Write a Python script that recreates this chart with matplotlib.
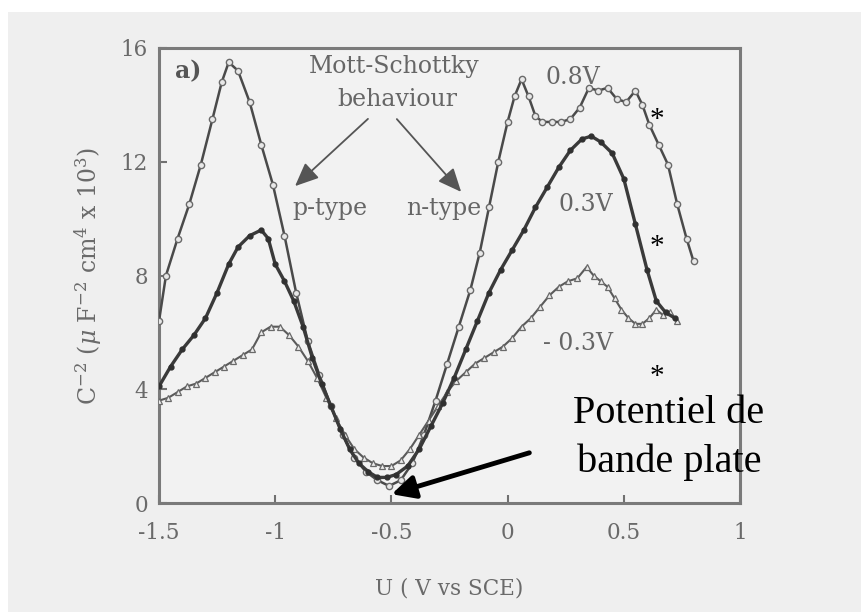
import matplotlib
matplotlib.use("Agg")
import matplotlib.pyplot as plt
from matplotlib.patches import Rectangle, FancyArrowPatch

plt.rcParams['axes.unicode_minus'] = False
plt.rcParams['mathtext.fontset'] = 'dejavuserif'

# ---- data ----
v08_x = [-1.50, -1.47, -1.42, -1.37, -1.32, -1.27, -1.23, -1.20, -1.16, -1.11, -1.06, -1.01,
         -0.96, -0.91, -0.86, -0.81, -0.76, -0.71, -0.66, -0.61, -0.56, -0.51, -0.46, -0.41,
         -0.36, -0.31, -0.26, -0.21, -0.16, -0.12, -0.08, -0.04, 0.00, 0.03, 0.06, 0.09,
         0.12, 0.15, 0.19, 0.23, 0.27, 0.31, 0.35, 0.39, 0.43, 0.47, 0.51, 0.55, 0.58,
         0.61, 0.65, 0.69, 0.73, 0.77, 0.80]
v08_y = [6.4, 8.0, 9.3, 10.5, 11.9, 13.5, 14.8, 15.5, 15.2, 14.1, 12.6, 11.2,
         9.4, 7.4, 5.7, 4.5, 3.4, 2.4, 1.6, 1.1, 0.8, 0.6, 0.8, 1.4,
         2.4, 3.6, 4.9, 6.2, 7.5, 8.8, 10.4, 12.0, 13.4, 14.3, 14.9, 14.3,
         13.6, 13.4, 13.4, 13.4, 13.5, 13.9, 14.6, 14.5, 14.6, 14.2, 14.1, 14.5, 14.0,
         13.3, 12.6, 11.9, 10.5, 9.3, 8.5]

v03_x = [-1.50, -1.45, -1.40, -1.35, -1.30, -1.25, -1.20, -1.16, -1.11, -1.06, -1.03, -1.00,
         -0.96, -0.92, -0.88, -0.84, -0.80, -0.76, -0.72, -0.68, -0.64, -0.60, -0.56, -0.52,
         -0.48, -0.43, -0.38, -0.33, -0.28, -0.23, -0.18, -0.13, -0.08, -0.03, 0.02, 0.07,
         0.12, 0.17, 0.22, 0.27, 0.32, 0.36, 0.40, 0.45, 0.50, 0.55, 0.60, 0.64, 0.68, 0.72]
v03_y = [4.1, 4.8, 5.4, 5.9, 6.5, 7.4, 8.4, 9.0, 9.4, 9.6, 9.3, 8.4,
         7.8, 7.1, 6.2, 5.1, 4.2, 3.4, 2.6, 1.9, 1.4, 1.1, 0.9, 0.9,
         1.0, 1.3, 1.9, 2.7, 3.5, 4.4, 5.4, 6.4, 7.4, 8.2, 8.9, 9.6,
         10.4, 11.1, 11.8, 12.4, 12.8, 12.9, 12.7, 12.3, 11.4, 9.8, 8.2, 7.1, 6.7, 6.5]

vm03_x = [-1.50, -1.46, -1.42, -1.38, -1.34, -1.30, -1.26, -1.22, -1.18, -1.14, -1.10, -1.06,
          -1.02, -0.98, -0.94, -0.90, -0.86, -0.82, -0.78, -0.74, -0.70, -0.66, -0.62, -0.58,
          -0.54, -0.50, -0.46, -0.42, -0.38, -0.34, -0.30, -0.26, -0.22, -0.18, -0.14, -0.10,
          -0.06, -0.02, 0.02, 0.06, 0.10, 0.14, 0.18, 0.22, 0.26, 0.30, 0.34, 0.37, 0.40,
          0.43, 0.46, 0.49, 0.52, 0.55, 0.58, 0.61, 0.64, 0.67, 0.70, 0.73]
vm03_y = [3.6, 3.7, 3.9, 4.1, 4.2, 4.4, 4.6, 4.8, 5.0, 5.2, 5.4, 6.0,
          6.2, 6.2, 5.9, 5.5, 5.0, 4.4, 3.7, 3.0, 2.4, 1.9, 1.6, 1.4,
          1.3, 1.3, 1.5, 1.9, 2.4, 2.9, 3.4, 3.9, 4.3, 4.6, 4.9, 5.1,
          5.3, 5.5, 5.8, 6.2, 6.5, 6.9, 7.3, 7.6, 7.8, 7.9, 8.3, 8.0, 7.8,
          7.6, 7.2, 6.8, 6.5, 6.3, 6.3, 6.5, 6.8, 6.6, 6.7, 6.4]

x_ticks = [-1.5, -1, -0.5, 0, 0.5, 1]
x_ticklabels = ['-1.5', '-1', '-0.5', '0', '0.5', '1']
y_ticks = [0, 4, 8, 12, 16]
y_ticklabels = ['0', '4', '8', '12', '16']

W, H = 861, 612
fig = plt.figure(figsize=(W / 100, H / 100), dpi=100, facecolor='white')
# scanned grey background
fig.patches.append(Rectangle((8 / W, 0), 1 - 8 / W, 1 - 12 / H, transform=fig.transFigure,
                             facecolor='#efefef', edgecolor='none', zorder=-10))

ax = fig.add_axes([159 / W, 1 - 503 / H, (740 - 159) / W, (503 - 48) / H])
ax.set_facecolor('#f2f2f2')
ax.set_xlim(-1.5, 1.0)
ax.set_ylim(0, 16)

ax.plot(v08_x, v08_y, '-', color='#4a4a4a', lw=1.8, marker='o', ms=4.5, mfc='#e8e8e8',
        mec='#6a6a6a', mew=1.0, zorder=3)
ax.plot(v03_x, v03_y, '-', color='#3a3a3a', lw=2.4, marker='o', ms=3.5, mfc='#303030',
        mec='#303030', zorder=4)
ax.plot(vm03_x, vm03_y, '-', color='#5a5a5a', lw=1.5, marker='^', ms=4.5, mfc='#ececec',
        mec='#6a6a6a', mew=0.9, zorder=3)

for s in ax.spines.values():
    s.set_color('#7a7a7a')
    s.set_linewidth(2.2)

ax.set_xticks(x_ticks)
ax.set_xticklabels(x_ticklabels)
ax.set_yticks(y_ticks)
ax.set_yticklabels(y_ticklabels)
for lab in ax.get_xticklabels() + ax.get_yticklabels():
    lab.set_fontfamily('DejaVu Serif')
    lab.set_fontsize(15.5)
    lab.set_color('#6a6a6a')
ax.tick_params(axis='both', direction='in', length=6, width=1.5, color='#707070')
ax.tick_params(axis='x', pad=14)
ax.tick_params(axis='y', pad=8)

ax.set_xlabel('U ( V vs SCE)', fontfamily='DejaVu Serif', fontsize=15.5, color='#6a6a6a',
              labelpad=24)
ax.set_ylabel(r'C$^{-2}$ ($\mu$ F$^{-2}$ cm$^4$ x 10$^3$)', fontfamily='DejaVu Serif',
              fontsize=17, color='#6a6a6a', labelpad=12)

def px(x, y):
    return (x / W, 1 - y / H)

gcol = '#666666'
afont = dict(family='DejaVu Serif', size=17, color=gcol)
fig.text(*px(188, 71), 'a)', ha='center', va='center', family='DejaVu Serif', size=17,
         color='#555555', weight='bold')
fig.text(*px(394, 67), 'Mott-Schottky', ha='center', va='center', **afont)
fig.text(*px(397, 100), 'behaviour', ha='center', va='center', **afont)
fig.text(*px(330, 209), 'p-type', ha='center', va='center', **afont)
fig.text(*px(444, 209), 'n-type', ha='center', va='center', **afont)
fig.text(*px(600, 78), '0.8V', ha='right', va='center', **afont)
fig.text(*px(613, 205), '0.3V', ha='right', va='center', **afont)
fig.text(*px(613, 343), '- 0.3V', ha='right', va='center', **afont)

arrow_kw = dict(arrowstyle='-|>,head_length=0.8,head_width=0.35', color='#555555', lw=1.3)
fig.add_artist(FancyArrowPatch(px(370, 117), px(293, 188),
               transform=fig.transFigure, mutation_scale=18, **arrow_kw))
fig.add_artist(FancyArrowPatch(px(395, 117), px(463, 194),
               transform=fig.transFigure, mutation_scale=18, **arrow_kw))

sfam = ['Liberation Serif', 'DejaVu Serif']
for yy in (113, 240, 370):
    fig.text(*px(657, yy + 14), '*', ha='center', va='baseline', family=sfam, size=21,
             color='black')

fig.text(*px(669, 423), 'Potentiel de', ha='center', va='baseline',
         family=sfam, size=29, color='black')
fig.text(*px(669, 472), 'bande plate', ha='center', va='baseline',
         family=sfam, size=29, color='black')
fig.add_artist(FancyArrowPatch(px(532, 452), px(389, 495),
               transform=fig.transFigure, arrowstyle='-|>,head_length=0.7,head_width=0.35',
               color='black', lw=3.5, mutation_scale=20))

fig.savefig('out.png', dpi=100, facecolor=fig.get_facecolor())
